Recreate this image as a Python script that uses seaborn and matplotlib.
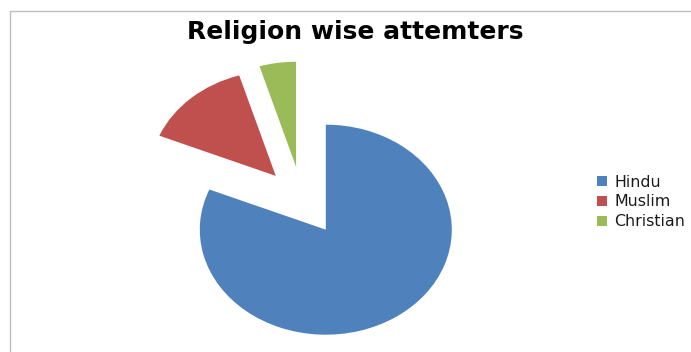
import matplotlib
matplotlib.use("Agg")
import matplotlib.pyplot as plt
from matplotlib.lines import Line2D
import seaborn as sns

# data
religions = ["Hindu", "Muslim", "Christian"]
attempters = [52, 9, 3]
explode = [0.34, 0.31, 0.32]
colors = ["#4F81BD", "#C0504D", "#9BBB59"]

sns.set_theme(style="white")
plt.rcParams["font.family"] = ["DejaVu Sans"]

W, H = 691, 352
fig = plt.figure(figsize=(W / 100, H / 100), dpi=100)

# pie axes: centre at (302, 200) px from top-left, radii 126 x 105 px (stretched pie)
cx, cy, rx, ry = 302, 200, 126, 105
kx, ky_lo, ky_hi = 1.5, 1.4, 1.6
ax = fig.add_axes([(cx - kx * rx) / W, (H - cy - ky_lo * ry) / H,
                   2 * kx * rx / W, (ky_lo + ky_hi) * ry / H])
wedges, _ = ax.pie(attempters, explode=explode, colors=colors,
                   startangle=90, counterclock=False,
                   wedgeprops={"linewidth": 0})
ax.set_aspect("auto")
ax.set_xlim(-kx, kx)
ax.set_ylim(-ky_lo, ky_hi)
ax.axis("off")

fig.text(355.5 / W, 1 - 39 / H, "Religion wise attemters", ha="center", va="baseline",
         fontsize=18, fontweight="bold", color="black")

handles = [Line2D([], [], marker="s", linestyle="none", markersize=7.5,
                  markerfacecolor=c, markeredgewidth=0) for c in colors]
leg = fig.legend(handles, religions, loc="center left", bbox_to_anchor=(595 / W, 1 - 202 / H),
                 frameon=False, fontsize=11.4, handlelength=0.9, handletextpad=0.3,
                 labelspacing=0.3, borderpad=0, borderaxespad=0)
for t in leg.get_texts():
    t.set_color("#1a1a1a")

# chart area border (top and left edges visible)
fig.add_artist(Line2D([10 / W, 1], [1 - 11 / H, 1 - 11 / H], color="#bfbfbf", lw=1))
fig.add_artist(Line2D([10 / W, 10 / W], [0, 1 - 11 / H], color="#bfbfbf", lw=1))

fig.savefig("out.png", dpi=100)
